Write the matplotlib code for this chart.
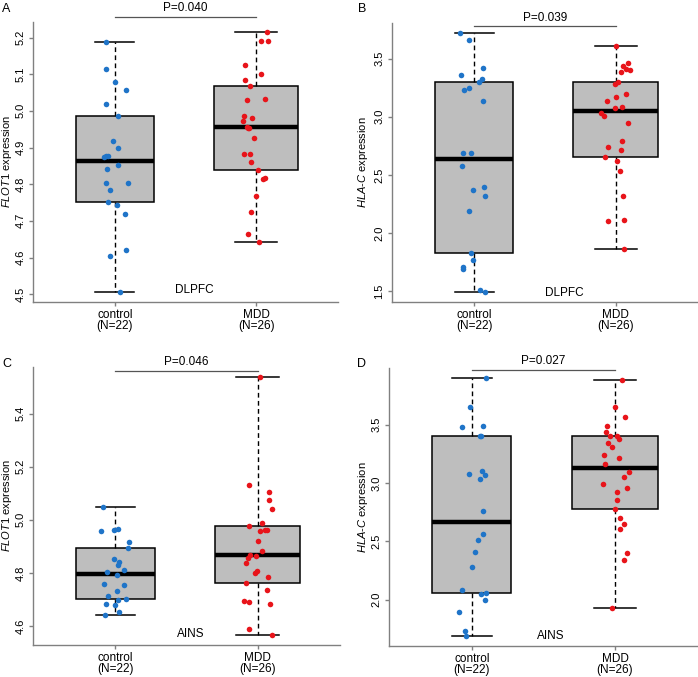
"""FLOT1 / HLA-C expression, MDD vs control, DLPFC and AINS (4 boxplot panels).

R-style boxplots (Tukey hinges, varwidth, whiskers to min/max) with jittered points.
"""

import matplotlib
matplotlib.use("Agg")
import matplotlib.pyplot as plt
import numpy as np

plt.rcParams["font.family"] = ["Liberation Sans", "DejaVu Sans"]
plt.rcParams["mathtext.fontset"] = "custom"
plt.rcParams["mathtext.it"] = "Liberation Sans:italic"
plt.rcParams["mathtext.rm"] = "Liberation Sans"

GROUPS = ["control\n(N=22)", "MDD\n(N=26)"]

# A — FLOT1, DLPFC
A_CTRL = [5.188, 5.115, 5.078, 5.058, 5.020, 4.987, 4.919, 4.900, 4.877, 4.876, 4.875,
          4.851, 4.842, 4.802, 4.802, 4.784, 4.751, 4.742, 4.718, 4.621, 4.604, 4.507]
A_CTRL_JIT = [-0.066, -0.066, -0.002, 0.080, -0.066, 0.024, -0.014, 0.024, -0.061, -0.052, -0.080,
              0.024, -0.054, -0.066, 0.090, -0.038, -0.052, 0.014, 0.068, 0.080, -0.033, 0.038]
A_MDD = [5.214, 5.190, 5.191, 5.126, 5.101, 5.084, 5.069, 5.029, 5.032, 4.987, 4.981, 4.971, 4.956,
         4.954, 4.954, 4.927, 4.882, 4.882, 4.860, 4.840, 4.817, 4.814, 4.767, 4.723, 4.664, 4.643]
A_MDD_JIT = [0.080, 0.038, 0.085, -0.080, 0.033, -0.078, -0.040, -0.064, 0.066, -0.087, -0.031, -0.090, -0.066,
             -0.050, -0.059, -0.017, -0.083, -0.045, -0.033, 0.014, 0.061, 0.047, -0.002, -0.038, -0.054, 0.021]

# B — HLA-C, DLPFC
B_CTRL = [3.718, 3.664, 3.362, 3.417, 3.325, 3.296, 3.247, 3.227, 3.136, 2.691, 2.691,
          2.576, 2.398, 2.369, 2.318, 2.186, 1.830, 1.764, 1.707, 1.689, 1.506, 1.494]
B_CTRL_JIT = [-0.097, -0.033, -0.094, 0.064, 0.057, 0.031, -0.033, -0.071, 0.064, -0.080, -0.024,
              -0.085, 0.071, -0.009, 0.078, -0.040, -0.021, -0.007, -0.078, -0.078, 0.042, 0.078]
B_MDD = [3.609, 3.466, 3.437, 3.414, 3.402, 3.385, 3.299, 3.279, 3.193, 3.136, 3.170, 3.081, 3.075,
         3.029, 3.009, 2.949, 2.794, 2.740, 2.714, 2.654, 2.619, 2.533, 2.318, 2.106, 2.108, 1.859]
B_MDD_JIT = [-0.002, 0.083, 0.052, 0.073, 0.099, 0.033, 0.017, -0.005, 0.073, -0.064, -0.002, 0.045, -0.005,
             -0.104, -0.087, 0.087, 0.042, -0.054, 0.033, -0.075, 0.005, 0.026, 0.050, -0.057, 0.059, 0.057]

# C — FLOT1, AINS
C_CTRL = [5.050, 4.956, 4.962, 4.965, 4.915, 4.892, 4.852, 4.840, 4.829, 4.812, 4.803,
          4.792, 4.759, 4.753, 4.733, 4.714, 4.699, 4.702, 4.684, 4.680, 4.651, 4.641]
C_CTRL_JIT = [-0.087, -0.099, -0.012, 0.021, 0.094, 0.085, -0.007, 0.026, 0.017, 0.061, -0.061,
              0.009, -0.083, 0.061, 0.012, -0.054, 0.017, 0.071, -0.066, 0.000, 0.024, -0.073]
C_MDD = [5.537, 5.132, 5.105, 5.076, 5.041, 4.989, 4.976, 4.959, 4.962, 4.962, 4.920, 4.881, 4.868,
         4.865, 4.857, 4.837, 4.807, 4.798, 4.783, 4.762, 4.735, 4.694, 4.690, 4.683, 4.589, 4.567]
C_MDD_JIT = [0.014, -0.057, 0.078, 0.083, 0.099, 0.033, -0.057, 0.014, 0.054, 0.066, 0.005, 0.028, -0.052,
             -0.009, -0.066, -0.080, -0.005, -0.017, 0.073, -0.078, 0.064, -0.094, -0.057, 0.090, -0.061, 0.099]

# D — HLA-C, AINS
D_CTRL = [3.896, 3.654, 3.477, 3.486, 3.406, 3.404, 3.079, 3.099, 3.067, 3.030, 2.763,
          2.561, 2.512, 2.407, 2.276, 2.082, 2.048, 2.060, 2.000, 1.892, 1.735, 1.692]
D_CTRL_JIT = [0.097, -0.017, -0.073, 0.078, 0.059, 0.062, -0.024, 0.068, 0.094, 0.059, 0.078,
              0.080, 0.040, 0.024, 0.000, -0.071, 0.064, 0.101, 0.094, -0.092, -0.052, -0.042]
D_MDD = [3.881, 3.654, 3.568, 3.491, 3.440, 3.406, 3.398, 3.380, 3.343, 3.304, 3.235, 3.212, 3.161,
         3.093, 3.047, 2.993, 2.953, 2.925, 2.851, 2.774, 2.703, 2.649, 2.606, 2.398, 2.341, 1.932]
D_MDD_JIT = [0.052, -0.002, 0.068, -0.057, -0.061, -0.035, 0.017, 0.031, -0.047, -0.021, -0.080, 0.028, -0.073,
             0.101, 0.066, -0.083, 0.085, 0.012, 0.014, 0.002, 0.035, 0.066, 0.033, 0.083, 0.061, -0.019]

FLOT1_LABEL = r"$\mathit{FLOT1}$ expression"
HLAC_LABEL = r"$\mathit{HLA}$-$\mathit{C}$ expression"

A_YTICKS = [4.5, 4.6, 4.7, 4.8, 4.9, 5.0, 5.1, 5.2]
B_YTICKS = [1.5, 2.0, 2.5, 3.0, 3.5]
C_YTICKS = [4.6, 4.8, 5.0, 5.2, 5.4]
D_YTICKS = [2.0, 2.5, 3.0, 3.5]

P_TEXTS = ["P=0.040", "P=0.039", "P=0.046", "P=0.027"]
P_LEVELS = [5.256, 3.778, 5.560, 3.970]
REGIONS = ["DLPFC", "DLPFC", "AINS", "AINS"]
REGION_POS = [(1.565, 4.511), (1.635, 1.483), (1.527, 4.571), (1.549, 1.692)]

BLUE = "#1F74C8"
RED = "#E8141A"
AXIS_GRAY = "#808080"
FS = 8.5
TICK_FS = 8
LABEL_FS = 8

W, H = 698, 677


def px_rect(left, top, right, bottom):
    """pixel box (top-left origin) -> figure fraction rect"""
    return [left / W, 1 - bottom / H, (right - left) / W, (bottom - top) / H]


def fivenum(vals):
    # R's fivenum(): min, lower hinge, median, upper hinge, max
    x = np.sort(np.asarray(vals, dtype=float))
    n = len(x)
    n4 = np.floor((n + 3) / 2) / 2
    d = np.array([1, n4, (n + 1) / 2, n + 1 - n4, n]) - 1
    return 0.5 * (x[np.floor(d).astype(int)] + x[np.ceil(d).astype(int)])


def draw_panel(ax, ctrl, ctrl_jit, mdd, mdd_jit, ylabel, yticks, label_x,
               p_text, p_y, region, region_xy):
    groups = [ctrl, mdd]
    nmax = max(len(g) for g in groups)
    widths = [0.6 * np.sqrt(len(g) / nmax) for g in groups]  # varwidth=TRUE

    stats = []
    for g in groups:
        lo, q1, med, q3, hi = fivenum(g)
        stats.append(dict(whislo=lo, q1=q1, med=med, q3=q3, whishi=hi, fliers=[]))

    ax.bxp(stats, positions=[1, 2], widths=widths, capwidths=[w / 2 for w in widths],
           patch_artist=True, showfliers=False,
           boxprops=dict(facecolor="#BEBEBE", edgecolor="black", linewidth=1.1),
           medianprops=dict(color="black", linewidth=3.2, solid_capstyle="butt"),
           whiskerprops=dict(color="black", linewidth=1.0, linestyle=(0, (3.4, 2.4))),
           capprops=dict(color="black", linewidth=1.1))

    ax.scatter(1 + np.asarray(ctrl_jit), ctrl, s=16, color=BLUE, linewidths=0, zorder=5)
    ax.scatter(2 + np.asarray(mdd_jit), mdd, s=16, color=RED, linewidths=0, zorder=5)

    # y range like R: data range +/- 4%
    allv = np.concatenate([ctrl, mdd])
    pad = 0.04 * (allv.max() - allv.min())
    ax.set_ylim(allv.min() - pad, allv.max() + pad)
    ax.set_xlim(0.42, 2.58)

    ax.set_xticks([1, 2])
    ax.set_xticklabels(GROUPS, fontsize=FS, linespacing=0.9)
    ax.set_yticks(yticks)
    ax.set_yticklabels([f"{t:.1f}" for t in yticks], rotation=90, va="center", fontsize=TICK_FS)
    ax.tick_params(axis="both", color=AXIS_GRAY, labelcolor="black", length=3.1, width=1)
    ax.tick_params(axis="y", pad=2.3)
    ax.tick_params(axis="x", pad=2)

    for side in ("top", "right"):
        ax.spines[side].set_visible(False)
    for side in ("left", "bottom"):
        ax.spines[side].set_color(AXIS_GRAY)
        ax.spines[side].set_linewidth(1.0)

    ax.set_ylabel(ylabel, fontsize=LABEL_FS)
    ax.yaxis.set_label_coords(label_x, 0.5)

    # significance bar
    ax.plot([1, 2], [p_y, p_y], color="#555555", linewidth=0.9, clip_on=False)
    ax.annotate(p_text, xy=(1.5, p_y), xytext=(0, 2), textcoords="offset points",
                ha="center", va="bottom", fontsize=FS, annotation_clip=False)

    ax.text(region_xy[0], region_xy[1], region, ha="center", va="center", fontsize=FS)


def main():
    fig = plt.figure(figsize=(W / 100, H / 100), dpi=100)

    panels = [
        ("A", px_rect(33, 22, 338, 302), (2, 3), A_CTRL, A_CTRL_JIT, A_MDD, A_MDD_JIT, FLOT1_LABEL, A_YTICKS, -0.062),
        ("B", px_rect(392, 23, 698, 302), (358, 3), B_CTRL, B_CTRL_JIT, B_MDD, B_MDD_JIT, HLAC_LABEL, B_YTICKS, -0.073),
        ("C", px_rect(33, 367, 340, 645), (2, 358), C_CTRL, C_CTRL_JIT, C_MDD, C_MDD_JIT, FLOT1_LABEL, C_YTICKS, -0.062),
        ("D", px_rect(389, 368, 698, 646), (357, 358), D_CTRL, D_CTRL_JIT, D_MDD, D_MDD_JIT, HLAC_LABEL, D_YTICKS, -0.062),
    ]

    for i, (letter, rect, lpos, ctrl, cj, mdd, mj, ylab, yt, lab_x) in enumerate(panels):
        ax = fig.add_axes(rect)
        draw_panel(ax, ctrl, cj, mdd, mj, ylab, yt, lab_x,
                   P_TEXTS[i], P_LEVELS[i], REGIONS[i], REGION_POS[i])
        fig.text(lpos[0] / W, 1 - lpos[1] / H, letter, ha="left", va="top", fontsize=9)

    fig.savefig("out.png", dpi=100)


if __name__ == "__main__":
    main()
